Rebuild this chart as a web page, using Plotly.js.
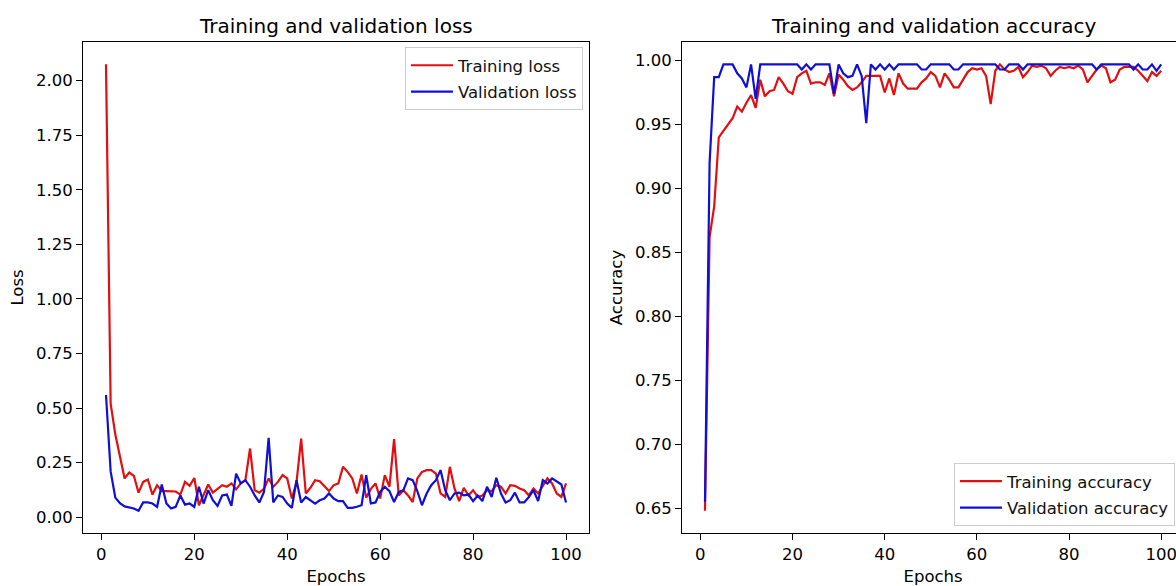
<!DOCTYPE html>
<html>
<head>
<meta charset="utf-8">
<script src="https://cdn.plot.ly/plotly-3.0.1.min.js"></script>
<style>
  html, body { margin: 0; padding: 0; overflow: hidden; background: #ffffff; }
  #chart { width: 1190px; height: 586px; }
</style>
</head>
<body>
<div id="chart"></div>
<script>
// ---- data ----
const epochs = [1,2,3,4,5,6,7,8,9,10,11,12,13,14,15,16,17,18,19,20,
  21,22,23,24,25,26,27,28,29,30,31,32,33,34,35,36,37,38,39,40,
  41,42,43,44,45,46,47,48,49,50,51,52,53,54,55,56,57,58,59,60,
  61,62,63,64,65,66,67,68,69,70,71,72,73,74,75,76,77,78,79,80,
  81,82,83,84,85,86,87,88,89,90,91,92,93,94,95,96,97,98,99,100];

const trainLoss = [2.075,0.52,0.38,0.28,0.178,0.205,0.19,0.113,0.162,0.173,
  0.104,0.147,0.12,0.12,0.12,0.118,0.104,0.162,0.144,0.18,
  0.055,0.1,0.15,0.113,0.13,0.147,0.14,0.155,0.128,0.155,
  0.17,0.315,0.124,0.113,0.13,0.178,0.14,0.162,0.193,0.178,
  0.086,0.16,0.36,0.109,0.135,0.17,0.165,0.14,0.12,0.147,
  0.155,0.231,0.208,0.178,0.109,0.196,0.09,0.13,0.155,0.086,
  0.193,0.14,0.358,0.1,0.124,0.1,0.07,0.178,0.208,0.216,
  0.216,0.2,0.109,0.093,0.231,0.132,0.074,0.135,0.1,0.124,
  0.093,0.1,0.124,0.12,0.147,0.14,0.109,0.147,0.144,0.132,
  0.124,0.1,0.132,0.109,0.147,0.178,0.155,0.109,0.093,0.155];

const valLoss = [0.56,0.21,0.09,0.065,0.05,0.045,0.04,0.03,0.068,0.068,
  0.063,0.048,0.15,0.063,0.04,0.048,0.1,0.058,0.063,0.048,
  0.14,0.063,0.124,0.078,0.052,0.1,0.104,0.052,0.2,0.155,
  0.17,0.14,0.1,0.068,0.116,0.364,0.068,0.1,0.093,0.063,
  0.043,0.17,0.068,0.093,0.078,0.063,0.078,0.086,0.109,0.086,
  0.074,0.074,0.043,0.043,0.048,0.055,0.193,0.063,0.068,0.116,
  0.14,0.12,0.07,0.116,0.124,0.178,0.17,0.12,0.055,0.109,
  0.147,0.17,0.216,0.124,0.078,0.109,0.113,0.1,0.104,0.074,
  0.1,0.074,0.14,0.093,0.181,0.109,0.068,0.078,0.113,0.068,
  0.068,0.093,0.124,0.074,0.17,0.155,0.178,0.162,0.15,0.068];

const trainAcc = [0.648,0.862,0.886,0.94,0.945,0.95,0.955,0.964,0.96,0.967,
  0.973,0.963,0.985,0.972,0.976,0.977,0.987,0.982,0.976,0.974,
  0.987,0.99,0.992,0.982,0.983,0.983,0.981,0.99,0.972,0.989,
  0.985,0.98,0.977,0.979,0.983,0.988,0.988,0.988,0.988,0.975,
  0.986,0.973,0.99,0.982,0.978,0.978,0.978,0.983,0.986,0.991,
  0.988,0.979,0.99,0.985,0.979,0.979,0.985,0.991,0.994,0.993,
  0.994,0.988,0.966,0.992,0.997,0.993,0.991,0.992,0.995,0.987,
  0.991,0.996,0.995,0.996,0.994,0.988,0.992,0.995,0.994,0.995,
  0.994,0.996,0.993,0.983,0.988,0.993,0.996,0.994,0.983,0.985,
  0.993,0.995,0.995,0.995,0.992,0.988,0.984,0.991,0.988,0.992];

const valAcc = [0.655,0.92,0.987,0.987,0.997,0.997,0.997,0.99,0.986,0.979,
  0.997,0.97,0.997,0.997,0.997,0.997,0.997,0.997,0.997,0.997,
  0.997,0.993,0.997,0.993,0.997,0.997,0.997,0.997,0.974,0.997,
  0.99,0.987,0.988,0.997,0.988,0.951,0.997,0.993,0.997,0.993,
  0.997,0.993,0.997,0.997,0.997,0.997,0.997,0.993,0.993,0.997,
  0.997,0.997,0.997,0.997,0.993,0.993,0.997,0.997,0.997,0.997,
  0.997,0.997,0.997,0.997,0.993,0.993,0.997,0.997,0.997,0.993,
  0.997,0.997,0.997,0.997,0.997,0.997,0.997,0.997,0.997,0.997,
  0.997,0.997,0.997,0.997,0.997,0.993,0.997,0.997,0.997,0.997,
  0.997,0.997,0.997,0.993,0.997,0.993,0.993,0.997,0.992,0.997];

const lossTicks = [0, 0.25, 0.5, 0.75, 1.0, 1.25, 1.5, 1.75, 2.0];
const accTicks = [0.65, 0.70, 0.75, 0.80, 0.85, 0.90, 0.95, 1.00];
const epochTicks = [0, 20, 40, 60, 80, 100];

// ---- styling ----
const FONT = "DejaVu Sans, Verdana, sans-serif";
const RED = "rgb(225,15,15)";
const BLUE = "rgb(15,15,215)";
const LBL = 16.5;

const traces = [
  {x: epochs, y: trainLoss, type: "scatter", mode: "lines", name: "Training loss",
   line: {color: RED, width: 2.2}, xaxis: "x", yaxis: "y", legend: "legend", legendgroup: "a"},
  {x: epochs, y: valLoss, type: "scatter", mode: "lines", name: "Validation loss",
   line: {color: BLUE, width: 2.2}, xaxis: "x", yaxis: "y", legend: "legend", legendgroup: "b"},
  {x: epochs, y: trainAcc, type: "scatter", mode: "lines", name: "Training accuracy",
   line: {color: RED, width: 2.2}, xaxis: "x2", yaxis: "y2", legend: "legend2", legendgroup: "c"},
  {x: epochs, y: valAcc, type: "scatter", mode: "lines", name: "Validation accuracy",
   line: {color: BLUE, width: 2.2}, xaxis: "x2", yaxis: "y2", legend: "legend2", legendgroup: "d"}
];

function axisBase(extra) {
  return Object.assign({
    showgrid: false, zeroline: false,
    showline: true, mirror: true, linecolor: "#000", linewidth: 1,
    ticks: "outside", ticklen: 6, tickwidth: 1, tickcolor: "#000",
    tickfont: {family: FONT, size: LBL, color: "#000"},
    fixedrange: true
  }, extra);
}

const legendStyle = {
  bgcolor: "rgba(255,255,255,0.85)", bordercolor: "#cccccc", borderwidth: 1,
  font: {family: FONT, size: LBL, color: "#111"},
  xref: "paper", yref: "paper", tracegroupgap: 2, traceorder: "grouped",
  itemwidth: 42
};

const layout = {
  width: 1190, height: 586,
  margin: {l: 83, r: 6, t: 42, b: 53},
  paper_bgcolor: "#fff", plot_bgcolor: "#fff",
  showlegend: true,
  xaxis: axisBase({domain: [0, 0.4596], range: [-3.95, 104.95], anchor: "y",
    tickvals: epochTicks, ticktext: epochTicks.map(String),
    title: {text: "Epochs", font: {family: FONT, size: LBL, color: "#000"}, standoff: 8}}),
  yaxis: axisBase({domain: [0, 1], range: [-0.072, 2.177], anchor: "x",
    tickvals: lossTicks, tickformat: ".2f",
    title: {text: "Loss", font: {family: FONT, size: LBL, color: "#000"}, standoff: 8}}),
  xaxis2: axisBase({domain: [0.5442, 1], range: [-3.95, 104.95], anchor: "y2",
    tickvals: epochTicks, ticktext: epochTicks.map(String),
    title: {text: "Epochs", font: {family: FONT, size: LBL, color: "#000"}, standoff: 8}}),
  yaxis2: axisBase({domain: [0, 1], range: [0.6306, 1.0145], anchor: "x2",
    tickvals: accTicks, tickformat: ".2f",
    title: {text: "Accuracy", font: {family: FONT, size: LBL, color: "#000"}, standoff: 8}}),
  legend: Object.assign({}, legendStyle, {x: 0.4541, y: 0.9898, xanchor: "right", yanchor: "top"}),
  legend2: Object.assign({}, legendStyle, {x: 0.9918, y: 0.0143, xanchor: "right", yanchor: "bottom"}),
  annotations: [
    {text: "Training and validation loss", xref: "x domain", yref: "paper", x: 0.5, y: 1,
     xanchor: "center", yanchor: "bottom", yshift: 2, showarrow: false,
     font: {family: FONT, size: 20, color: "#000"}},
    {text: "Training and validation accuracy", xref: "x2 domain", yref: "paper", x: 0.5, y: 1,
     xanchor: "center", yanchor: "bottom", yshift: 2, showarrow: false,
     font: {family: FONT, size: 20, color: "#000"}}
  ]
};

Plotly.newPlot("chart", traces, layout, {displayModeBar: false, staticPlot: true});
</script>
</body>
</html>
